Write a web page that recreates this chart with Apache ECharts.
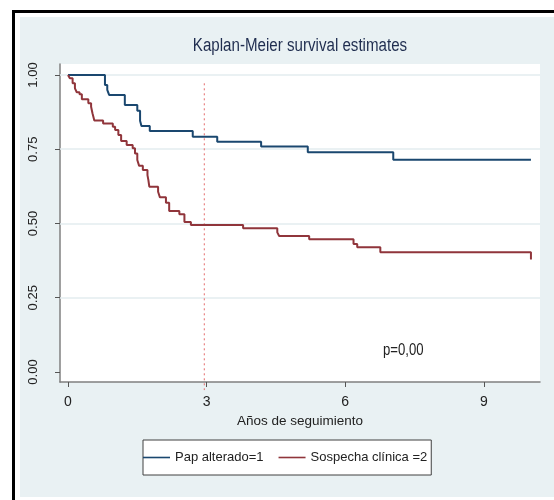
<!DOCTYPE html>
<html>
<head>
<meta charset="utf-8">
<script src="https://cdn.jsdelivr.net/npm/echarts@6/dist/echarts.min.js"></script>
<style>
  html, body { margin: 0; padding: 0; background: #fff; }
  #chart { width: 554px; height: 500px; }
</style>
</head>
<body>
<div id="chart"></div>
<script>
// survival times (years) and estimates
const blueT = [0, 0.80, 0.85, 0.89, 1.23, 1.50, 1.56, 1.59, 1.77, 2.70, 3.23, 4.18, 5.19, 7.04, 10.02]
const blueS = [1, 0.966, 0.95, 0.933, 0.899, 0.88, 0.846, 0.828, 0.811, 0.792, 0.775, 0.759, 0.740, 0.715, 0.715]

const redT = [0, 0.04, 0.10, 0.15, 0.19, 0.25, 0.30, 0.44, 0.50, 0.53,
  0.57, 0.76, 0.97, 1.02, 1.09, 1.15, 1.27, 1.40, 1.45, 1.50,
  1.54, 1.62, 1.72, 1.74, 1.76, 1.95, 1.99, 2.12, 2.19, 2.41,
  2.52, 2.66, 3.79, 4.53, 4.57, 5.22, 6.18, 6.26, 6.76, 10.02]
const redS = [1, 0.989, 0.972, 0.955, 0.942, 0.935, 0.918, 0.905, 0.893, 0.871,
  0.847, 0.837, 0.826, 0.815, 0.798, 0.778, 0.764, 0.753, 0.736, 0.714,
  0.694, 0.680, 0.663, 0.646, 0.624, 0.607, 0.588, 0.570, 0.542, 0.531,
  0.505, 0.495, 0.484, 0.470, 0.458, 0.447, 0.431, 0.420, 0.403, 0.379]

const seriesNames = ['Pap alterado=1', 'Sospecha clínica =2']
const xTicks = [0, 3, 6, 9]
const yTicks = [0, 0.25, 0.5, 0.75, 1]
const gridYs = [0.25, 0.5, 0.75, 1]
const refLineX = 2.95
const refLineY = [0.972, -0.061]

// no narrow face installed, so texts drawn by hand get squeezed with scaleX
const font = '"Liberation Sans", Arial, sans-serif'
const zip = (a, b) => a.map((v, i) => [v, b[i]])

const chart = echarts.init(document.getElementById('chart'))
chart.setOption({
  backgroundColor: '#fff',
  animation: false,
  graphic: [
    { type: 'rect', z: -10, shape: { x: 13.5, y: 11.5, width: 600, height: 600 },
      style: { fill: '#fff', stroke: '#000', lineWidth: 3 } },
    { type: 'rect', z: -9, shape: { x: 20, y: 17, width: 540, height: 480 },
      style: { fill: '#e9f1f3' } },
    { type: 'text', x: 300, y: 37, scaleX: 0.84, z: 10,
      style: { text: 'Kaplan-Meier survival estimates', fill: '#1f2d4f', font: '18px ' + font,
        textAlign: 'center', textVerticalAlign: 'top' } },
    { type: 'text', x: 383, y: 343, scaleX: 0.82, z: 10,
      style: { text: 'p=0,00', fill: '#222', font: '16px ' + font, textVerticalAlign: 'top' } },
  ],
  grid: { left: 60, right: 14, top: 64, bottom: 118, show: true, backgroundColor: '#fff', borderWidth: 0 },
  legend: {
    data: seriesNames,
    left: 143, top: 440,
    padding: [11, 4, 11, 0],
    icon: 'rect',
    itemWidth: 27, itemHeight: 1.6, itemGap: 15,
    backgroundColor: '#fff',
    borderColor: '#404040', borderWidth: 1, borderRadius: 0,
    textStyle: { fontFamily: font, fontSize: 13, color: '#222' },
  },
  xAxis: {
    type: 'value', min: -0.173, max: 10.216,
    name: 'Años de seguimiento', nameLocation: 'middle', nameGap: 31,
    nameTextStyle: { fontFamily: font, fontSize: 13.5, color: '#222' },
    axisLine: { show: true, onZero: false, lineStyle: { color: '#808080', width: 1.5 } },
    axisTick: { show: true, length: 5, customValues: xTicks, lineStyle: { color: '#555' } },
    axisLabel: { customValues: xTicks, margin: 13, fontFamily: font, fontSize: 14, color: '#222' },
    splitLine: { show: false },
  },
  yAxis: {
    type: 'value', min: -0.0337, max: 1.037,
    axisLine: { show: true, onZero: false, lineStyle: { color: '#808080', width: 1.5 } },
    axisTick: { show: true, length: 5, customValues: yTicks, lineStyle: { color: '#555' } },
    axisLabel: { customValues: yTicks, rotate: 90, margin: 20, fontFamily: font, fontSize: 13, color: '#222',
      formatter: v => v.toFixed(2) },
    splitLine: { show: false },
  },
  series: [
    {
      name: 'grid', type: 'line', data: [], z: 1, silent: true,
      markLine: {
        z: 1, silent: true, symbol: 'none', label: { show: false },
        lineStyle: { color: '#e3ecef', width: 1.5, type: 'solid' },
        data: gridYs.map(v => ({ yAxis: v })),
      },
    },
    {
      name: 'ref', type: 'line', data: zip([refLineX, refLineX], refLineY), z: 2,
      symbol: 'none', clip: false, silent: true,
      lineStyle: { color: '#e36a6a', width: 1, type: [2, 3] },
    },
    {
      name: seriesNames[0], type: 'line', step: 'end', data: zip(blueT, blueS), z: 3,
      symbol: 'none', itemStyle: { color: '#1a476f' },
      lineStyle: { color: '#1a476f', width: 2 },
    },
    {
      name: seriesNames[1], type: 'line', step: 'end', data: zip(redT, redS), z: 3,
      symbol: 'none', itemStyle: { color: '#90353b' },
      lineStyle: { color: '#90353b', width: 2 },
    },
  ],
})
</script>
</body>
</html>
